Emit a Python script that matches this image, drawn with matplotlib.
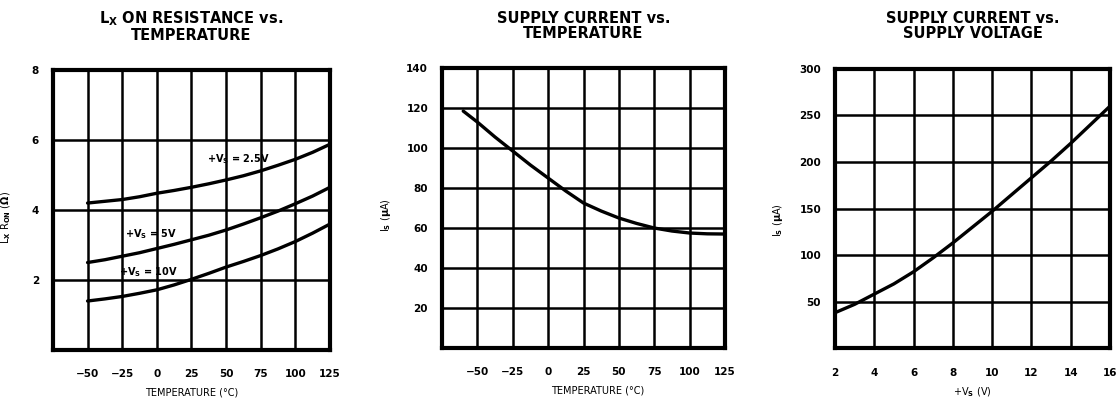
import numpy as np
import matplotlib
matplotlib.use("Agg")
import matplotlib.pyplot as plt

plt.rcParams['font.family'] = ['DejaVu Sans']
plt.rcParams['font.weight'] = 'bold'
plt.rcParams['mathtext.fontset'] = 'dejavusans'
plt.rcParams['mathtext.default'] = 'bf'

# Lx on resistance vs temperature
temp_ron = [-50, -37.5, -25, -12.5, 0, 12.5, 25, 37.5, 50, 62.5, 75, 87.5, 100, 112.5, 125]
ron_25v = [4.2, 4.25, 4.3, 4.38, 4.48, 4.56, 4.65, 4.75, 4.86, 4.98, 5.12, 5.28, 5.45, 5.65, 5.88]
ron_5v = [2.5, 2.58, 2.68, 2.78, 2.9, 3.02, 3.15, 3.28, 3.43, 3.6, 3.78, 3.97, 4.18, 4.4, 4.65]
ron_10v = [1.4, 1.46, 1.53, 1.62, 1.72, 1.86, 2.02, 2.19, 2.37, 2.53, 2.7, 2.89, 3.1, 3.34, 3.6]

# supply current vs temperature
temp_is = [-60, -50, -37.5, -25, -12.5, 0, 12.5, 25, 37.5, 50, 62.5, 75, 87.5, 100, 112.5, 125]
is_temp = [118.5, 113, 105.5, 98.5, 91.5, 85, 78.5, 72.5, 68.5, 65, 62.3, 60, 58.5, 57.5, 57.1, 57]

# supply current vs supply voltage
vs = [2, 3, 4, 5, 6, 7, 8, 9, 10, 11, 12, 13, 14, 15, 16]
is_vs = [38, 47, 58, 69, 82, 97, 113, 130, 147, 165, 183, 201, 220, 240, 260]

temp_ticks = [-50, -25, 0, 25, 50, 75, 100, 125]

fig = plt.figure(figsize=(11.17, 4.01), dpi=100)
ax1 = fig.add_axes([0.0474, 0.1272, 0.248, 0.698])
ax2 = fig.add_axes([0.3957, 0.1322, 0.2534, 0.698])
ax3 = fig.add_axes([0.7475, 0.1320, 0.2462, 0.696])


def style(ax, xlim, ylim, xgrid, ygrid, xt, yt):
    ax.set_xlim(*xlim)
    ax.set_ylim(*ylim)
    for g in xgrid:
        ax.axvline(g, color='black', lw=1.8, zorder=1)
    for g in ygrid:
        ax.axhline(g, color='black', lw=1.8, zorder=1)
    ax.set_xticks(xt)
    ax.set_yticks(yt)
    ax.tick_params(length=0, labelsize=7.5)
    ax.tick_params(axis='x', pad=14)
    ax.tick_params(axis='y', pad=10)
    for s in ax.spines.values():
        s.set_linewidth(3)


def curve(ax, x, y):
    ax.plot(x, y, color='black', lw=2.4, solid_capstyle='round',
            solid_joinstyle='round', zorder=3)


style(ax1, (-75, 125), (0, 8), [-50, -25, 0, 25, 50, 75, 100], [2, 4, 6],
      temp_ticks, [2, 4, 6, 8])
curve(ax1, temp_ron, ron_25v)
curve(ax1, temp_ron, ron_5v)
curve(ax1, temp_ron, ron_10v)
ax1.text(36, 5.47, '+V$_S$ = 2.5V', fontsize=7, va='center')
ax1.text(-23, 3.31, '+V$_S$ = 5V', fontsize=7, va='center')
ax1.text(-27, 2.23, '+V$_S$ = 10V', fontsize=7, va='center')
ax1.set_title('L$_X$ ON RESISTANCE vs.\nTEMPERATURE', fontsize=10.5,
              fontweight='bold', pad=22, linespacing=1.0)
ax1.set_ylabel('L$_X$ R$_{ON}$ ($\\Omega$)', fontsize=7)
ax1.yaxis.set_label_coords(-0.145, 0.475)
ax1.set_xlabel('TEMPERATURE (°C)', fontsize=7)
ax1.xaxis.set_label_coords(0.5, -0.135)

style(ax2, (-75, 125), (0, 140), [-50, -25, 0, 25, 50, 75, 100],
      [20, 40, 60, 80, 100, 120], temp_ticks, [20, 40, 60, 80, 100, 120, 140])
curve(ax2, temp_is, is_temp)
ax2.set_title('SUPPLY CURRENT vs.\nTEMPERATURE', fontsize=10.5,
              fontweight='bold', pad=22, linespacing=1.0)
ax2.set_ylabel('I$_S$ ($\\mu$A)', fontsize=7)
ax2.yaxis.set_label_coords(-0.173, 0.475)
ax2.set_xlabel('TEMPERATURE (°C)', fontsize=7)
ax2.xaxis.set_label_coords(0.55, -0.135)

style(ax3, (2, 16), (0, 300), [4, 6, 8, 10, 12, 14], [50, 100, 150, 200, 250],
      [2, 4, 6, 8, 10, 12, 14, 16], [50, 100, 150, 200, 250, 300])
curve(ax3, vs, is_vs)
ax3.set_title('SUPPLY CURRENT vs.\nSUPPLY VOLTAGE', fontsize=10.5,
              fontweight='bold', pad=22, linespacing=1.0)
ax3.set_ylabel('I$_S$ ($\\mu$A)', fontsize=7)
ax3.yaxis.set_label_coords(-0.18, 0.457)
ax3.set_xlabel('+V$_S$ (V)', fontsize=7)
ax3.xaxis.set_label_coords(0.5, -0.135)

fig.savefig('out.png', dpi=100)
